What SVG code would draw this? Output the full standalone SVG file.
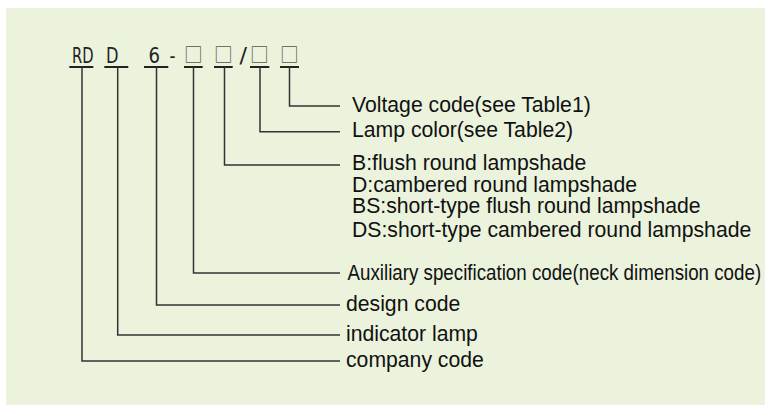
<svg xmlns="http://www.w3.org/2000/svg" width="768" height="405" viewBox="0 0 768 405">
<style>
.code{font-family:"DejaVu Sans","Liberation Sans",sans-serif;font-size:21px;fill:#222}
.box{font-family:"Noto Sans CJK SC","Noto Sans CJK JP",sans-serif;font-size:18.8px;fill:#555}
.lbl{font-family:"Liberation Sans",Arial,sans-serif;font-size:21.2px;fill:#111}
.ul{stroke:#222;stroke-width:2;fill:none}
.con{stroke:#333;stroke-width:1.5;fill:none}
</style>
<rect x="6" y="8" width="759" height="397" fill="#EBF3DD"/>
<g id="code">
<text class="code" x="72" y="63.3" textLength="21.5" lengthAdjust="spacingAndGlyphs">RD</text>
<text class="code" x="106" y="63.3" textLength="12.5" lengthAdjust="spacingAndGlyphs">D</text>
<text class="code" x="148.5" y="63.3" textLength="11.5" lengthAdjust="spacingAndGlyphs">6</text>
<text class="code" x="169.5" y="63.3" textLength="6" lengthAdjust="spacingAndGlyphs">-</text>
<text class="box" x="184" y="61.8">□</text>
<text class="box" x="214" y="61.8">□</text>
<text class="code" x="239.5" y="63.3" textLength="7.5" lengthAdjust="spacingAndGlyphs">/</text>
<text class="box" x="250" y="61.8">□</text>
<text class="box" x="280" y="61.8">□</text>
<path class="ul" d="M69.3 67H93.3M104.3 67H128.3M144 67H168.3M184 67H202.7M214 67H232.7M250 67H269.3M280 67H299"/>
</g>
<g id="connectors">
<polyline class="con" points="82,67 82,361 340,361"/>
<polyline class="con" points="117.7,67 117.7,335 340,335"/>
<polyline class="con" points="156.5,67 156.5,305 340,305"/>
<polyline class="con" points="193.5,67 193.5,273 340,273"/>
<polyline class="con" points="224.5,67 224.5,165 340,165"/>
<polyline class="con" points="260,67 260,131.7 340,131.7"/>
<polyline class="con" points="289.5,67 289.5,106 340,106"/>
</g>
<g id="voltage"><text class="lbl" x="352" y="111.5">Voltage code(see Table1)</text></g>
<g id="lamp-color"><text class="lbl" x="352" y="137">Lamp color(see Table2)</text></g>
<g id="lampshade">
<text class="lbl" x="352" y="170">B:flush round lampshade</text>
<text class="lbl" x="352" y="191.5">D:cambered round lampshade</text>
<text class="lbl" x="352" y="212.5">BS:short-type flush round lampshade</text>
<text class="lbl" x="352" y="236.5">DS:short-type cambered round lampshade</text>
</g>
<g id="auxiliary"><text class="lbl" transform="translate(347.5,280) scale(0.885,1)" x="0" y="0">Auxiliary specification code(neck dimension code)</text></g>
<g id="design"><text class="lbl" x="346" y="311">design code</text></g>
<g id="indicator"><text class="lbl" x="346" y="341">indicator lamp</text></g>
<g id="company"><text class="lbl" x="346" y="367">company code</text></g>
</svg>
